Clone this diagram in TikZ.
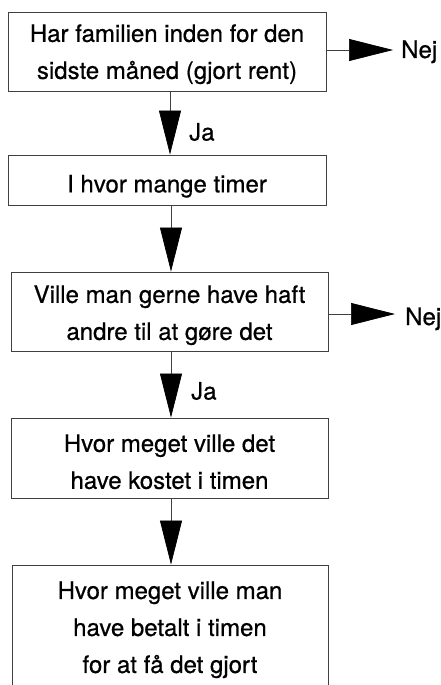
\documentclass[tikz,border=0pt]{standalone}
\usepackage{fontspec}
\setmainfont{TeX Gyre Heros}[FakeBold=0.6]
\usetikzlibrary{arrows.meta}
\begin{document}
\begin{tikzpicture}[x=1pt,y=-1pt,
  box/.style={draw=black!75, line width=0.8pt, inner sep=0pt, align=center,
    font=\fontsize{24}{37}\selectfont},
  arr/.style={draw=black!75, line width=0.7pt, -{Triangle[length=44pt,width=22pt,black]}},
  lbl/.style={font=\fontsize{24}{29}\selectfont, inner sep=0pt}]
\useasboundingbox (0,0) rectangle (441,685);
\clip (0,0) rectangle (441,685);
\fill[white] (0,0) rectangle (441,685);

\node[box, minimum width=318pt, minimum height=79pt] (b1) at (167,51.5)
  {\rule{0pt}{23pt}Har familien inden for den\\sidste måned (gjort rent)};
\node[box, minimum width=318pt, minimum height=50pt] (b2) at (167,180)
  {\rule{0pt}{30pt}I hvor mange timer};
\node[box, minimum width=317pt, minimum height=79pt] (b3) at (169.5,311.5)
  {\rule{0pt}{25pt}Ville man gerne have haft\\andre til at gøre det};
\node[box, minimum width=317pt, minimum height=80pt] (b4) at (169.5,458)
  {\rule{0pt}{25pt}Hvor meget ville det\\have kostet i timen};
\node[box, minimum width=316pt, minimum height=129.6pt] (b5) at (170,629.8)
  {Hvor meget ville man\\have betalt i timen\\for at få det gjort};

\coordinate (ax1) at (170,0);
\coordinate (ax2) at (171,0);
\coordinate (tip1) at (393,50);
\coordinate (tip2) at (395,314);

\node[lbl, anchor=base west] (nej1) at (401,58) {Nej};
\node[lbl, anchor=base west] (nej2) at (405,325) {Nej};
\node[lbl, anchor=west] (ja1) at (189,132) {Ja};
\node[lbl, anchor=west] (ja2) at (191,391) {Ja};

\draw[arr] (b1.south -| ax1) -- (b2.north -| ax1);
\draw[arr] (b2.south -| ax2) -- (b3.north -| ax2);
\draw[arr] (b3.south -| ax2) -- (b4.north -| ax2);
\draw[arr] (b4.south -| ax2) -- (b5.north -| ax2);
\draw[arr] (b1.east |- tip1) -- (tip1);
\draw[arr] (b3.east |- tip2) -- (tip2);
\end{tikzpicture}
\end{document}
